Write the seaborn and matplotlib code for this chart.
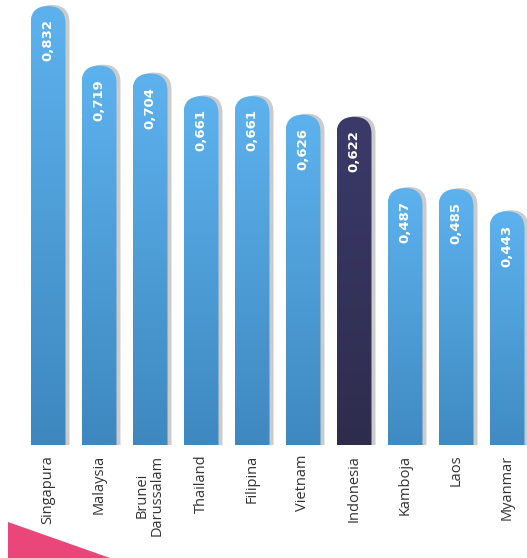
import numpy as np
import pandas as pd
import matplotlib
matplotlib.use("Agg")
import matplotlib.pyplot as plt
import seaborn as sns
from matplotlib.patches import FancyBboxPatch, Polygon

# ---- data ----
countries = ["Singapura", "Malaysia", "Brunei\nDarussalam", "Thailand", "Filipina",
             "Vietnam", "Indonesia", "Kamboja", "Laos", "Myanmar"]
values = [0.832, 0.719, 0.704, 0.661, 0.661, 0.626, 0.622, 0.487, 0.485, 0.443]
value_labels = ["0,832", "0,719", "0,704", "0,661", "0,661", "0,626", "0,622",
                "0,487", "0,485", "0,443"]
highlight = "Indonesia"

df = pd.DataFrame({"country": countries, "value": values,
                   "group": ["hi" if c == highlight else "lo" for c in countries]})

W, H, DPI = 527, 558, 100
fig = plt.figure(figsize=(W / DPI, H / DPI), dpi=DPI)
fig.patch.set_facecolor("white")

ax_bottom_px = 113
ax_height_px = 445
ax = fig.add_axes([0, ax_bottom_px / H, 1, ax_height_px / H])

sns.barplot(data=df, x="country", y="value", hue="group",
            palette={"hi": "#2e2c4e", "lo": "#4a9ad6"}, width=0.686,
            dodge=False, legend=False, ax=ax)

xlim = (-48 / 51, (W - 48) / 51)
ylim = (0, ax_height_px / 527.6)
ax.set_xlim(*xlim)
ax.set_ylim(*ylim)

ppx = W / (xlim[1] - xlim[0])
ppy = ax_height_px / (ylim[1] - ylim[0])
aspect = ppx / ppy

grad_blue = ("#5db2ee", "#3a82b9")
grad_navy = ("#3b3a6a", "#2c2a48")

bars = list(ax.patches)
for bar in bars:
    x0 = bar.get_x()
    w = bar.get_width()
    h = bar.get_height()
    xc = x0 + w / 2
    idx = int(round(xc))
    bar.set_visible(False)
    r = w / 2
    y0 = -0.1
    # shadow
    sh = FancyBboxPatch((x0 + 4 / ppx, y0), w, h - y0 + 1 / ppy,
                        boxstyle=f"round,pad=0,rounding_size={r}",
                        mutation_aspect=aspect, facecolor="#cbcbcb",
                        edgecolor="none", zorder=1)
    ax.add_patch(sh)
    body = FancyBboxPatch((x0, y0), w, h - y0,
                          boxstyle=f"round,pad=0,rounding_size={r}",
                          mutation_aspect=aspect, facecolor="none",
                          edgecolor="none", zorder=2)
    ax.add_patch(body)
    c_top, c_bot = grad_navy if countries[idx] == highlight else grad_blue
    ct = np.array(matplotlib.colors.to_rgb(c_top))
    cb = np.array(matplotlib.colors.to_rgb(c_bot))
    t = np.linspace(0, 1, 256)[:, None]
    img = (ct[None, :] * (1 - t) + cb[None, :] * t)[:, None, :]
    im = ax.imshow(img, extent=(x0, x0 + w, y0, h), origin="upper",
                   aspect="auto", interpolation="bilinear", zorder=2)
    im.set_clip_path(body)
    ax.annotate(value_labels[idx], xy=(xc, h), xytext=(0, -9.5),
                textcoords="offset points", rotation=90, ha="center", va="top",
                color="white", fontsize=9.5, fontweight="bold",
                fontfamily="DejaVu Sans", zorder=3)

ax.set_xlim(*xlim)
ax.set_ylim(*ylim)
ax.set_xlabel("")
ax.set_ylabel("")
ax.set_yticks([])
ax.tick_params(axis="x", length=0, pad=7)
for lab in ax.get_xticklabels():
    lab.set_rotation(90)
    lab.set_fontfamily("Open Sans")
    lab.set_fontsize(10.5)
    lab.set_color("#333333")
    lab.set_ha("center")
    lab.set_va("top")
    lab.set_multialignment("center")
    lab.set_linespacing(1.0)
for s in ax.spines.values():
    s.set_visible(False)
ax.set_facecolor("white")

tri = Polygon([(8 / W, 1 - 522 / H), (110 / W, 0), (8 / W, 0)],
              closed=True, transform=fig.transFigure, facecolor="#ea4679",
              edgecolor="none")
fig.patches.append(tri)

fig.savefig("out.png", dpi=DPI)
